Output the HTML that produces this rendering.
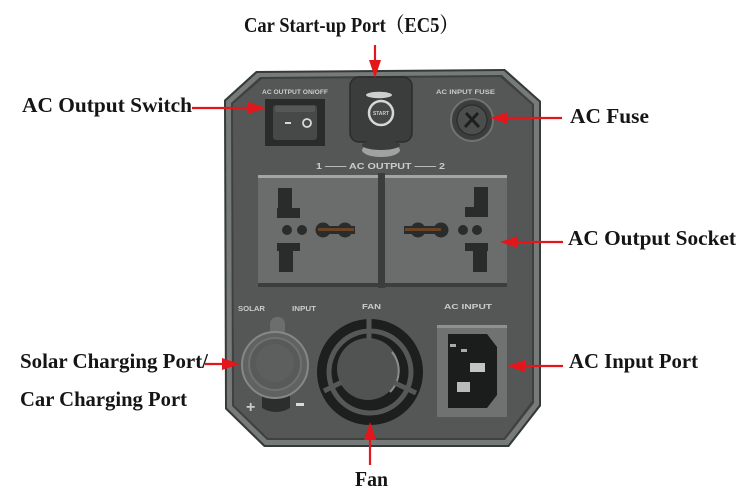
<!DOCTYPE html>
<html><head><meta charset="utf-8"><style>
html,body{margin:0;padding:0;background:#fff;}
svg{display:block;}
.lbl{font-family:"Liberation Serif","Noto Serif CJK SC",serif;font-size:21px;font-weight:bold;fill:#151515;}
.sm{font-family:"Liberation Sans",sans-serif;font-weight:bold;fill:#c9cccb;}
</style></head><body>
<svg width="750" height="496" viewBox="0 0 750 496" xmlns="http://www.w3.org/2000/svg">
<rect width="750" height="496" fill="#fff"/>
<!-- panel -->
<polygon points="256,71 505,69 541,101 541,406 509,447 264,447 225,409 224,100" fill="#343a37"/>
<polygon points="257,73 504,71 539,102 539,405 508,445 265,445 227,408 226,101" fill="#767a78"/>
<polygon points="260,77 502,75 534,104 534,403 505,440 267,440 232,406 231,103" fill="#3e4140"/>
<polygon points="262,79 500,77 532,105 532,401 504,438 268,438 234,405 233,104" fill="#545756"/>

<!-- switch -->
<text class="sm" x="262" y="94" font-size="6.5" textLength="66" lengthAdjust="spacingAndGlyphs">AC OUTPUT ON/OFF</text>
<rect x="265" y="99" width="60" height="47" fill="#2a2c2b"/>
<rect x="273" y="105" width="44" height="35" rx="3" fill="#464948"/>
<rect x="275" y="106" width="40" height="6" rx="2" fill="#555857"/>
<rect x="285" y="122" width="6" height="2" fill="#d8dad9"/>
<circle cx="307" cy="123" r="4" fill="none" stroke="#d8dad9" stroke-width="1.8"/>

<!-- car port -->
<rect x="350" y="77" width="62" height="65" rx="9" fill="#3a3d3c" stroke="#2b2d2c" stroke-width="1.5"/>
<ellipse cx="381" cy="150" rx="19" ry="7" fill="#9fa2a1"/>
<ellipse cx="381" cy="145" rx="19" ry="5" fill="#3a3d3c"/>
<ellipse cx="379" cy="95" rx="13" ry="3.2" fill="#cdd0cf"/>
<circle cx="381" cy="113" r="12" fill="#444746" stroke="#d6d8d7" stroke-width="2.5"/>
<text class="sm" x="373" y="115" font-size="5" fill="#e0e2e1" textLength="16" lengthAdjust="spacingAndGlyphs">START</text>

<!-- fuse -->
<text class="sm" x="436" y="94" font-size="6.5" textLength="59" lengthAdjust="spacingAndGlyphs">AC INPUT FUSE</text>
<circle cx="472" cy="120" r="21" fill="#3c3e3d" stroke="#707372" stroke-width="2"/>
<circle cx="472" cy="120" r="15" fill="#4b4e4d" stroke="#2e302f" stroke-width="1.5"/>
<line x1="466" y1="113" x2="479" y2="127" stroke="#1d1f1e" stroke-width="3"/>
<line x1="478" y1="113" x2="465" y2="127" stroke="#1d1f1e" stroke-width="3"/>

<!-- AC OUTPUT label -->
<text class="sm" x="316" y="169" font-size="8.5" fill="#d6d8d7" textLength="129" lengthAdjust="spacingAndGlyphs">1 —— AC OUTPUT —— 2</text>

<!-- sockets -->
<rect x="378" y="173" width="7" height="115" fill="#3a3d3c"/>
<rect x="258" y="175" width="120" height="111" fill="#6a6d6c"/>
<rect x="258" y="175" width="120" height="3" fill="#a2a5a4"/>
<rect x="258" y="283" width="120" height="4" fill="#3b3e3d"/>
<rect x="385" y="175" width="122" height="111" fill="#6a6d6c"/>
<rect x="385" y="175" width="122" height="3" fill="#a2a5a4"/>
<rect x="385" y="283" width="122" height="4" fill="#3b3e3d"/>

<!-- left socket holes -->
<g fill="#2a2c2b">
<rect x="278" y="188" width="14" height="22"/>
<rect x="277" y="208" width="23" height="10"/>
<rect x="277" y="243" width="23" height="8"/>
<rect x="279" y="249" width="14" height="23"/>
<circle cx="287" cy="230" r="5"/>
<circle cx="302" cy="230" r="5"/>
<circle cx="323" cy="230" r="7.5"/>
<circle cx="345" cy="230" r="7.5"/>
<rect x="323" y="226" width="32" height="8"/>
</g>
<rect x="318" y="228" width="36" height="3" fill="#7a4a25" opacity="0.8"/>
<!-- right socket holes -->
<g fill="#2a2c2b">
<rect x="474" y="187" width="14" height="22"/>
<rect x="465" y="207" width="23" height="10"/>
<rect x="465" y="243" width="23" height="8"/>
<rect x="473" y="249" width="14" height="23"/>
<circle cx="477" cy="230" r="5"/>
<circle cx="463" cy="230" r="5"/>
<circle cx="441" cy="230" r="7.5"/>
<circle cx="418" cy="230" r="7.5"/>
<rect x="404" y="226" width="37" height="8"/>
</g>
<rect x="405" y="228" width="36" height="3" fill="#7a4a25" opacity="0.8"/>

<!-- bottom labels -->
<text class="sm" x="238" y="311" font-size="7" textLength="27" lengthAdjust="spacingAndGlyphs">SOLAR</text>
<text class="sm" x="292" y="311" font-size="7" textLength="24" lengthAdjust="spacingAndGlyphs">INPUT</text>
<text class="sm" x="362" y="309" font-size="7.5" textLength="19" lengthAdjust="spacingAndGlyphs">FAN</text>
<text class="sm" x="444" y="309" font-size="7.5" textLength="48" lengthAdjust="spacingAndGlyphs">AC INPUT</text>

<!-- cigarette socket -->
<rect x="270" y="317" width="15" height="20" rx="7" fill="#6b6e6d"/>
<path d="M262,390 L290,390 L290,408 Q276,416 262,408 Z" fill="#2c2e2d"/>
<circle cx="275" cy="365" r="33" fill="#5f6261" stroke="#858887" stroke-width="2"/>
<circle cx="275" cy="364" r="26" fill="#575a59" stroke="#6e7170" stroke-width="2"/>
<circle cx="275" cy="363" r="19" fill="#5c5f5e"/>
<text class="sm" x="246" y="412" font-size="16" fill="#d8dad9">+</text>
<rect x="296" y="403" width="8" height="3" fill="#d8dad9"/>

<!-- fan -->
<circle cx="370" cy="372" r="53" fill="#1d1f1e"/>
<circle cx="370" cy="372" r="41" fill="none" stroke="#555857" stroke-width="5"/>
<circle cx="368" cy="369" r="31" fill="#505352"/>
<path d="M392,352 A30,30 0 0 1 390,392" fill="none" stroke="#8a8d8c" stroke-width="2"/>
<line x1="369" y1="318" x2="369" y2="340" stroke="#555857" stroke-width="5"/>
<line x1="324" y1="391" x2="342" y2="382" stroke="#555857" stroke-width="5"/>
<line x1="416" y1="393" x2="395" y2="383" stroke="#555857" stroke-width="5"/>

<!-- AC input -->
<rect x="437" y="325" width="70" height="92" fill="#6f7271"/>
<rect x="437" y="325" width="70" height="3" fill="#8e9190"/>
<polygon points="448,334 487,334 497,347 497,395 487,408 448,408" fill="#1b1c1c"/>
<rect x="450" y="344" width="6" height="3" fill="#a9abaa"/>
<rect x="461" y="349" width="6" height="3" fill="#a9abaa"/>
<rect x="470" y="363" width="15" height="9" fill="#c3c5c4"/>
<rect x="457" y="382" width="13" height="10" fill="#b9bbba"/>

<!-- arrows -->
<g stroke="#e3161c" stroke-width="2.2" fill="none">
<line x1="375" y1="45" x2="375" y2="62"/>
<line x1="192" y1="108" x2="250" y2="108"/>
<line x1="562" y1="118" x2="505" y2="118"/>
<line x1="563" y1="242" x2="515" y2="242"/>
<line x1="563" y1="366" x2="522" y2="366"/>
<line x1="205" y1="364" x2="225" y2="364"/>
<line x1="370" y1="465" x2="370" y2="438"/>
</g>
<g fill="#e3161c">
<polygon points="369,60 381,60 375,78"/>
<polygon points="248,102 248,114 266,108"/>
<polygon points="508,112 508,124 490,118"/>
<polygon points="518,236 518,248 500,242"/>
<polygon points="525,360 525,372 507,366"/>
<polygon points="222,358 222,370 240,364"/>
<polygon points="364,440 376,440 370,422"/>
</g>

<!-- labels -->
<text class="lbl" x="244" y="32" textLength="214" lengthAdjust="spacingAndGlyphs">Car Start-up Port（EC5）</text>
<text class="lbl" x="22" y="112" textLength="170" lengthAdjust="spacingAndGlyphs">AC Output Switch</text>
<text class="lbl" x="570" y="123" textLength="79" lengthAdjust="spacingAndGlyphs">AC Fuse</text>
<text class="lbl" x="568" y="245" textLength="168" lengthAdjust="spacingAndGlyphs">AC Output Socket</text>
<text class="lbl" x="569" y="368" textLength="129" lengthAdjust="spacingAndGlyphs">AC Input Port</text>
<text class="lbl" x="20" y="368" textLength="188" lengthAdjust="spacingAndGlyphs">Solar Charging Port/</text>
<text class="lbl" x="20" y="406" textLength="167" lengthAdjust="spacingAndGlyphs">Car Charging Port</text>
<text class="lbl" x="355" y="486" textLength="33" lengthAdjust="spacingAndGlyphs">Fan</text>
</svg>
</body></html>
